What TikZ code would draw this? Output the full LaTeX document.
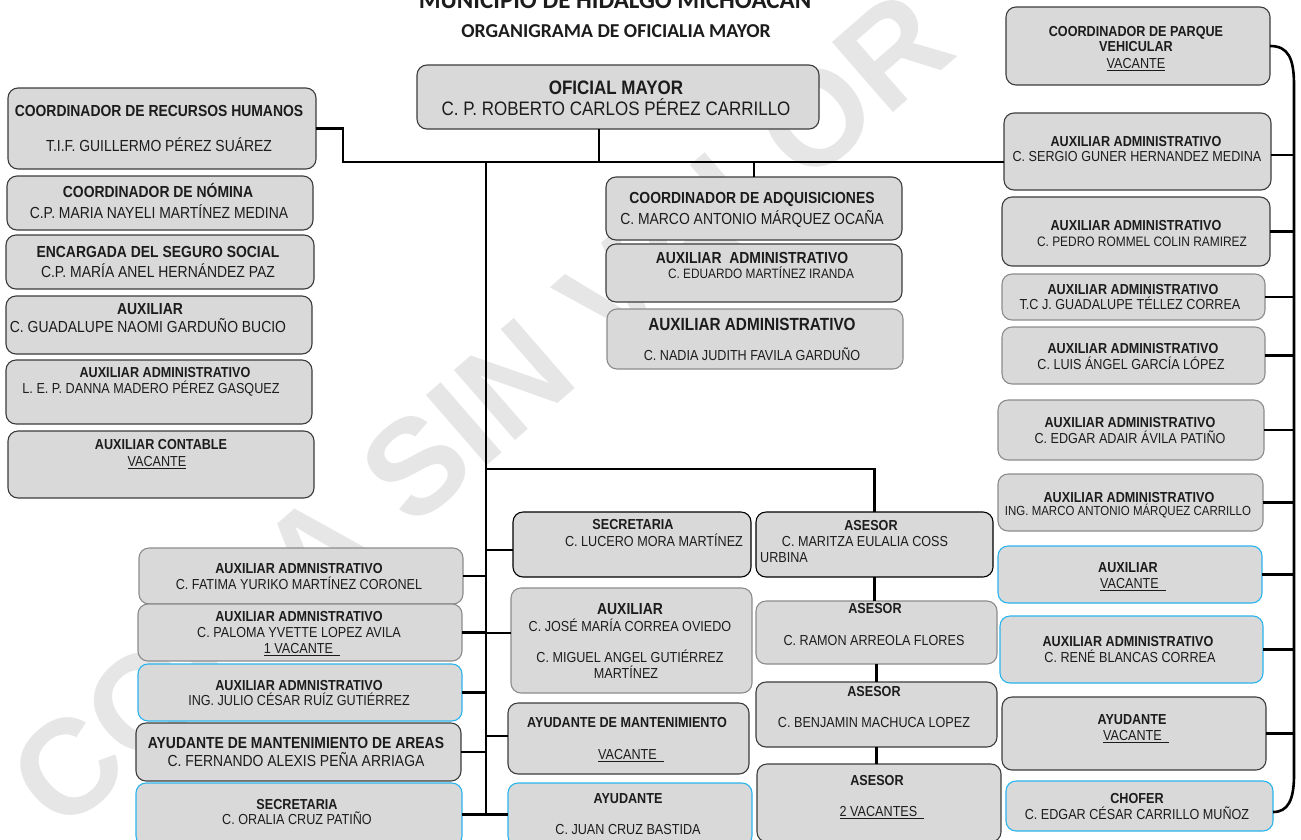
\documentclass[tikz,border=0pt]{standalone}
\usepackage{fontspec}
\setmainfont{Liberation Sans}[FakeStretch=0.87]
\newfontfamily\titlefont{Carlito}
\newfontfamily\wmfont{Liberation Sans}
\usetikzlibrary{fit}
\definecolor{boxfill}{HTML}{D9D9D9}
\definecolor{bdark}{HTML}{3C3C3C}
\definecolor{bmid}{HTML}{8C8C8C}
\definecolor{bblue}{HTML}{2AB4EE}
\definecolor{txt}{HTML}{1C1C1C}
\definecolor{wmc}{HTML}{E6E6E6}
\tikzset{
  box/.style={draw=bdark, fill=boxfill, rounded corners=10pt, line width=1.1pt, inner sep=0pt, outer sep=0pt},
  bm/.style={draw=bmid},
  bb/.style={draw=bblue},
  bk/.style={draw=black},
  conn/.style={line width=2.6pt, black},
  lbl/.style={anchor=base, inner sep=0pt, text=txt, yshift=-5.2pt, font=\fontsize{14.5}{17}\selectfont},
  s16/.style={font=\fontsize{16}{19}\selectfont, yshift=-0.5pt},
  s13/.style={font=\fontsize{13.2}{16}\selectfont, yshift=0.5pt},
  s136/.style={font=\fontsize{13.6}{16}\selectfont, yshift=0.3pt},
  s137/.style={font=\fontsize{13.7}{16}\selectfont, yshift=0.3pt},
  s176/.style={font=\fontsize{17.6}{21}\selectfont, yshift=-1pt},
  s19/.style={font=\fontsize{19.5}{23}\selectfont, yshift=-1.8pt},
  ttl/.style={anchor=base, inner sep=0pt, text=txt, font=\titlefont\bfseries},
  wm/.style={rotate=41, inner sep=0pt, text=wmc, font=\wmfont\bfseries\fontsize{135}{140}\selectfont}
}
\newcommand\bx[4][]{\node[box,#1,fit={(#3) (#4)}] (#2) {};}
\newcommand\tline[4][]{\node[lbl,#1] (#2) at (#3) {#4};}
\begin{document}
\begin{tikzpicture}[x=1pt,y=-1pt]
\clip (0,0) rectangle (1301,839);
\fill[white] (0,0) rectangle (1301,839);
% watermark
\node[wm] (wmark) at (480,410) {COPIA SIN VALOR};
% titles
\node[ttl, font=\titlefont\bfseries\fontsize{25}{30}\selectfont] (title1) at (615,8) {MUNICIPIO DE HIDALGO MICHOACÁN};
\node[ttl, font=\titlefont\bfseries\fontsize{19.7}{24}\selectfont] (title2) at (616,37.5) {ORGANIGRAMA DE OFICIALIA MAYOR};
% boxes left column
\bx{rh}{8,88}{316,169}
\bx{nom}{7,176}{313,230}
\bx{seg}{6,235}{314,289}
\bx{gua}{6,296}{312,354}
\bx{dan}{6,360}{312,424}
\bx{con}{8,431}{314,498}
% center top
\bx{om}{417,65}{819,129}
\bx{adq}{606,177}{902,240}
\bx{edu}{606,244}{902,302}
\bx[bm]{nad}{607,309}{903,369}
% right column
\bx{par}{1006,7}{1270,85}
\bx{ser}{1004,113}{1271,190}
\bx{ped}{1002,197}{1270,266}
\bx[bm]{tc}{1002,274}{1265,320}
\bx[bm]{lui}{1002,327}{1265,384}
\bx[bm]{eda}{998,400}{1264,460}
\bx[bm]{ing}{998,474}{1263,531}
\bx[bb]{auv}{998,546}{1262,603}
\bx[bb]{ren}{1000,616}{1263,683}
\bx{ayu}{1002,697}{1266,770}
\bx[bb]{cho}{1006,781}{1273,831}
% lower left
\bx[bm]{fat}{139,548}{463,604}
\bx[bm]{pal}{138,604}{462,661}
\bx[bb]{jul}{138,664}{462,721}
\bx{fer}{136,723}{461,781}
\bx[bb]{ora}{136,783}{462,846}
% lower center
\bx[bk]{luc}{513,512}{751,577}
\bx[bk]{mar}{756,512}{993,577}
\bx[bm]{jos}{511,588}{752,693}
\bx{man}{508,703}{749,774}
\bx[bb]{jua}{508,783}{752,846}
\bx[bm]{ram}{756,601}{997,664}
\bx{ben}{756,682}{997,747}
\bx{vtw}{757,764}{1001,842}
% connectors
\coordinate (j1) at (343,162);
\coordinate (tk) at (486,162);
\coordinate (tkb) at (486,814.5);
\coordinate (h2) at (486,469);
\coordinate (bus) at (1294,0);
\draw[conn] (rh.east) -| (j1) -- (j1 -| ser.west);
\path ([xshift=-19pt]om.south) coordinate (omb);
\draw[conn] (omb) -- (omb |- j1);
\draw[conn] (tk) -- (tkb);
\draw[conn] (adq.north) -- (adq.north |- j1);
\draw[conn] (h2) -| (mar.north);
\draw[conn] (mar.south) -- (mar.south |- ram.north);
\draw[conn] (ram.south) -- (ram.south |- ben.north);
\draw[conn] (ben.south) -- (ben.south |- vtw.north);
\foreach \b in {fat,pal,jul,fer,ora} \draw[conn] (\b.east) -- (\b.east -| tk);
\path ([yshift=-5.5pt]luc.west) coordinate (lucw);
\path ([yshift=7.5pt]jos.west) coordinate (josw);
\path ([yshift=2.5pt]man.west) coordinate (manw);
\foreach \b in {lucw,josw,manw,jua.west} \draw[conn] (\b -| tk) -- (\b);
\draw[conn] (par.east) .. controls (1288,46) and (1294,58) .. (1294,85) -- (1294,775) .. controls (1294,800) and (1288,812) .. ([yshift=-6pt]cho.east);
\path ([yshift=-3.5pt]ser.east) coordinate (sere);
\foreach \b in {sere,ped.east,tc.east,lui.east,eda.east,ing.east,auv.east,ren.east,ayu.east} \draw[conn] (\b) -- (\b -| bus);
% texts left column
\tline[s16]{rh1}{159,111}{\textbf{COORDINADOR DE RECURSOS HUMANOS}}
\tline[s16]{rh2}{159,146}{T.I.F. GUILLERMO PÉREZ SUÁREZ}
\tline[s16]{nom1}{158,192}{\textbf{COORDINADOR DE NÓMINA}}
\tline[s16]{nom2}{159,213}{C.P. MARIA NAYELI MARTÍNEZ MEDINA}
\tline[s16]{seg1}{158,252}{\textbf{ENCARGADA DEL SEGURO SOCIAL}}
\tline[s16]{seg2}{158,272}{C.P. MARÍA ANEL HERNÁNDEZ PAZ}
\tline[s16]{gua1}{150,309}{\textbf{AUXILIAR}}
\tline[s16]{gua2}{148,327}{C. GUADALUPE NAOMI GARDUÑO BUCIO}
\tline{dan1}{165,372}{\textbf{AUXILIAR ADMINISTRATIVO}}
\tline{dan2}{151,388}{L. E. P. DANNA MADERO PÉREZ GASQUEZ}
\tline{con1}{161,444}{\textbf{AUXILIAR CONTABLE}}
\tline{con2}{157,461}{\underline{VACANTE}}
% center top
\tline[s19]{om1}{616,87}{\textbf{OFICIAL MAYOR}}
\tline[s19]{om2}{616,108}{C. P. ROBERTO CARLOS PÉREZ CARRILLO}
\tline[s16]{adq1}{752,198}{\textbf{COORDINADOR DE ADQUISICIONES}}
\tline[s16]{adq2}{752,219}{C. MARCO ANTONIO MÁRQUEZ OCAÑA}
\tline[s16]{edu1}{752,258}{\textbf{AUXILIAR\ \ ADMINISTRATIVO}}
\tline[s136]{edu2}{761,274}{C. EDUARDO MARTÍNEZ IRANDA}
\tline[s176]{nad1}{752,324}{\textbf{AUXILIAR ADMINISTRATIVO}}
\tline{nad2}{752,355}{C. NADIA JUDITH FAVILA GARDUÑO}
% right column
\tline{par1}{1136,31}{\textbf{COORDINADOR DE PARQUE}}
\tline{par2}{1136,46}{\textbf{VEHICULAR}}
\tline{par3}{1136,63}{\underline{VACANTE}}
\tline{ser1}{1136,141}{\textbf{AUXILIAR ADMINISTRATIVO}}
\tline{ser2}{1137,156}{C. SERGIO GUNER HERNANDEZ MEDINA}
\tline{ped1}{1136,225}{\textbf{AUXILIAR ADMINISTRATIVO}}
\tline[s137]{ped2}{1142,242}{C. PEDRO ROMMEL COLIN RAMIREZ}
\tline{tc1}{1133,289}{\textbf{AUXILIAR ADMINISTRATIVO}}
\tline{tc2}{1130,304}{T.C J. GUADALUPE TÉLLEZ CORREA}
\tline{lui1}{1133,348}{\textbf{AUXILIAR ADMINISTRATIVO}}
\tline{lui2}{1131,364}{C. LUIS ÁNGEL GARCÍA LÓPEZ}
\tline{eda1}{1130,422}{\textbf{AUXILIAR ADMINISTRATIVO}}
\tline{eda2}{1130,438}{C. EDGAR ADAIR ÁVILA PATIÑO}
\tline{ing1}{1129,497}{\textbf{AUXILIAR ADMINISTRATIVO}}
\tline[s13]{ing2}{1128,511}{ING. MARCO ANTONIO MÁRQUEZ CARRILLO}
\tline{auv1}{1128,567}{\textbf{AUXILIAR}}
\tline{auv2}{1133,583}{\underline{VACANTE\ \ }}
\tline{ren1}{1128,641}{\textbf{AUXILIAR ADMINISTRATIVO}}
\tline{ren2}{1130,657}{C. RENÉ BLANCAS CORREA}
\tline{ayu1}{1132,719}{\textbf{AYUDANTE}}
\tline{ayu2}{1136,735}{\underline{VACANTE\ \ }}
\tline{cho1}{1137,798}{\textbf{CHOFER}}
\tline{cho2}{1137,814}{C. EDGAR CÉSAR CARRILLO MUÑOZ}
% lower left
\tline{fat1}{299,568}{\textbf{AUXILIAR ADMNISTRATIVO}}
\tline{fat2}{299,584}{C. FATIMA YURIKO MARTÍNEZ CORONEL}
\tline{pal1}{299,616}{\textbf{AUXILIAR ADMNISTRATIVO}}
\tline{pal2}{299,632}{C. PALOMA YVETTE LOPEZ AVILA}
\tline{pal3}{302,648}{\underline{1 VACANTE\ \ }}
\tline{jul1}{299,685}{\textbf{AUXILIAR ADMNISTRATIVO}}
\tline{jul2}{299,700}{ING. JULIO CÉSAR RUÍZ GUTIÉRREZ}
\tline[s16]{fer1}{296,743}{\textbf{AYUDANTE DE MANTENIMIENTO DE AREAS}}
\tline[s16]{fer2}{296,761}{C. FERNANDO ALEXIS PEÑA ARRIAGA}
\tline{ora1}{297,804}{\textbf{SECRETARIA}}
\tline{ora2}{297,819}{C. ORALIA CRUZ PATIÑO}
% lower center
\tline{luc1}{633,524}{\textbf{SECRETARIA}}
\tline{luc2}{654,541}{C. LUCERO MORA MARTÍNEZ}
\tline{mar1}{871,525}{\textbf{ASESOR}}
\tline{mar2}{865,541}{C. MARITZA EULALIA COSS}
\tline[anchor=base west]{mar3}{760,557}{URBINA}
\tline[s16]{jos1}{630,609}{\textbf{AUXILIAR}}
\tline{jos2}{630,626}{C. JOSÉ MARÍA CORREA OVIEDO}
\tline{jos3}{630,657}{C. MIGUEL ANGEL GUTIÉRREZ}
\tline{jos4}{626,673}{MARTÍNEZ}
\tline{man1}{627,722}{\textbf{AYUDANTE DE MANTENIMIENTO}}
\tline{man2}{631,754}{\underline{VACANTE\ \ }}
\tline{jua1}{628,798}{\textbf{AYUDANTE}}
\tline{jua2}{628,829}{C. JUAN CRUZ BASTIDA}
\tline{ram1}{875,608}{\textbf{ASESOR}}
\tline{ram2}{874,640}{C. RAMON ARREOLA FLORES}
\tline{ben1}{874,691}{\textbf{ASESOR}}
\tline{ben2}{874,722}{C. BENJAMIN MACHUCA LOPEZ}
\tline{vtw1}{877,780}{\textbf{ASESOR}}
\tline{vtw2}{882,811}{\underline{2 VACANTES\ \ }}
\end{tikzpicture}
\end{document}
